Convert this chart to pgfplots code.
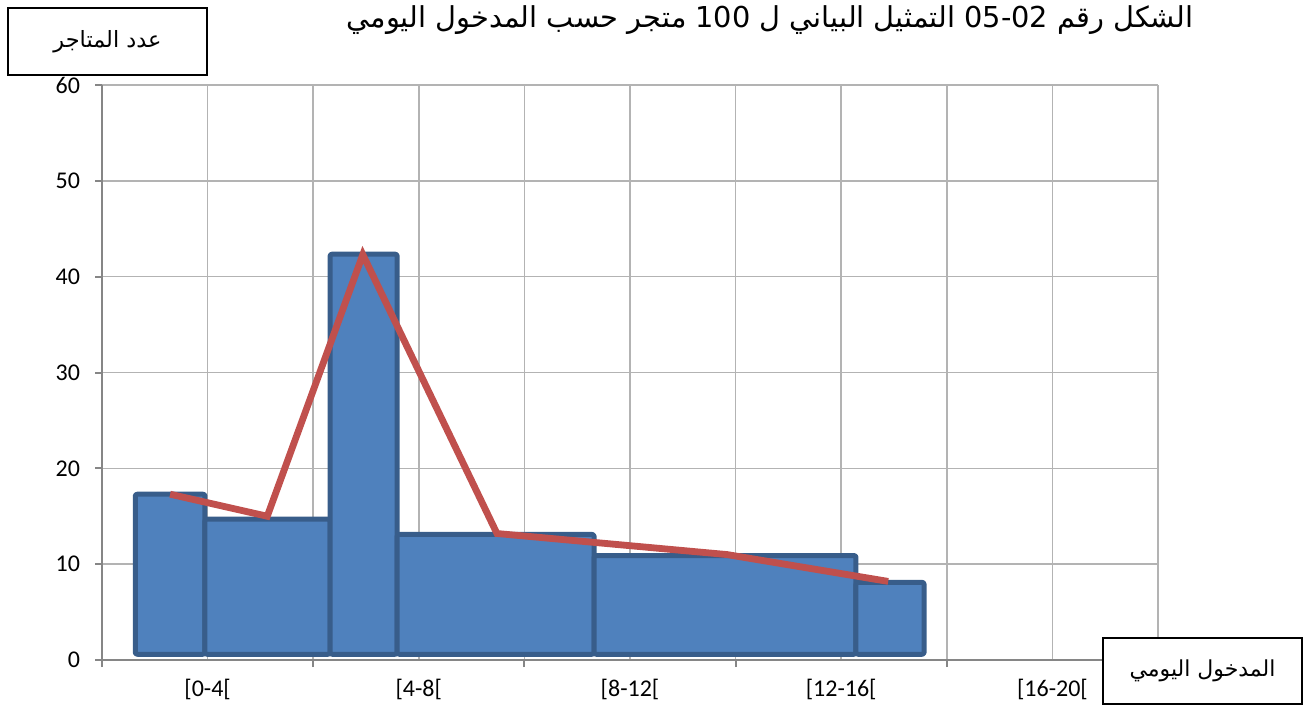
\documentclass[border=0pt]{standalone}
\usepackage{pgfplots}
\pgfplotsset{compat=1.18}
\usepackage{fontspec}
\setmainfont{Carlito}
\newfontfamily\arabicfont[Script=Arabic]{DejaVu Sans}
\TeXXeTstate=1
\definecolor{barfill}{HTML}{4F81BD}
\definecolor{barline}{HTML}{385D8A}
\definecolor{redline}{HTML}{C0504D}
\definecolor{gridc}{HTML}{B3B3B3}
\definecolor{axisc}{HTML}{868686}
\begin{document}
\begin{tikzpicture}
\useasboundingbox (0pt,0pt) rectangle (655.5pt,-355pt);
\begin{axis}[
  at={(51pt,-330pt)}, anchor=south west,
  scale only axis, width=528pt, height=287.5pt,
  xmin=0, xmax=20, ymin=0, ymax=60,
  clip=false,
  axis lines=left, axis line style={-, axisc, line width=1pt},
  xtick={0,4,...,20}, xticklabels={}, minor xtick={2,6,10,14,18},
  ytick={0,10,...,60},
  grid=both,
  major grid style={gridc, line width=0.75pt},
  minor grid style={gridc, line width=0.75pt},
  tick align=outside, major tick length=3.5pt, minor tick length=0pt,
  tick style={axisc, line width=1pt},
  extra x ticks={2,6,10,14,18},
  extra x tick labels={{[0-4[},{[4-8[},{[8-12[},{[12-16[},{[16-20[}},
  extra x tick style={major tick length=0pt, grid=none},
  /pgf/number format/assume math mode=true,
  tick label style={font=\fontsize{12}{14}\selectfont, black},
  yticklabel style={xshift=-4pt},
  xticklabel style={yshift=-6pt},
]
\addplot[fill=barfill, draw=barline, line width=2.5pt, line join=round, rounded corners=1pt] coordinates {(0.63,0.6) (0.63,17.3) (1.95,17.3) (1.95,0.6)} -- cycle;
\addplot[fill=barfill, draw=barline, line width=2.5pt, line join=round, rounded corners=1pt] coordinates {(1.95,0.6) (1.95,14.7) (4.32,14.7) (4.32,0.6)} -- cycle;
\addplot[fill=barfill, draw=barline, line width=2.5pt, line join=round, rounded corners=1pt] coordinates {(4.32,0.6) (4.32,42.35) (5.59,42.35) (5.59,0.6)} -- cycle;
\addplot[fill=barfill, draw=barline, line width=2.5pt, line join=round, rounded corners=1pt] coordinates {(5.59,0.6) (5.59,13.1) (9.32,13.1) (9.32,0.6)} -- cycle;
\addplot[fill=barfill, draw=barline, line width=2.5pt, line join=round, rounded corners=1pt] coordinates {(9.32,0.6) (9.32,10.9) (14.28,10.9) (14.28,0.6)} -- cycle;
\addplot[fill=barfill, draw=barline, line width=2.5pt, line join=round, rounded corners=1pt] coordinates {(14.28,0.6) (14.28,8.1) (15.57,8.1) (15.57,0.6)} -- cycle;
\addplot[redline, line width=3.4pt, mark=none] coordinates {(1.29,17.3) (3.13,15.0) (4.94,42.3) (7.48,13.2) (11.84,11.0) (14.89,8.2)};
\end{axis}
\node[font=\arabicfont\fontsize{14.4}{17}\selectfont] at (385pt,-10pt) {\beginR الشكل رقم \beginL 05-02\endL{} التمثيل البياني ل \beginL 100\endL{} متجر حسب المدخول اليومي\endR};
\draw[line width=0.6pt, fill=white] (4pt,-4pt) rectangle (103.5pt,-37.5pt);
\node[font=\arabicfont\fontsize{11.2}{13}\selectfont] at (53.75pt,-20.75pt) {\beginR عدد المتاجر\endR};
\draw[line width=0.6pt, fill=white] (551.5pt,-319pt) rectangle (651pt,-352pt);
\node[font=\arabicfont\fontsize{11}{13}\selectfont] at (601.25pt,-335.5pt) {\beginR المدخول اليومي\endR};
\end{tikzpicture}
\end{document}
